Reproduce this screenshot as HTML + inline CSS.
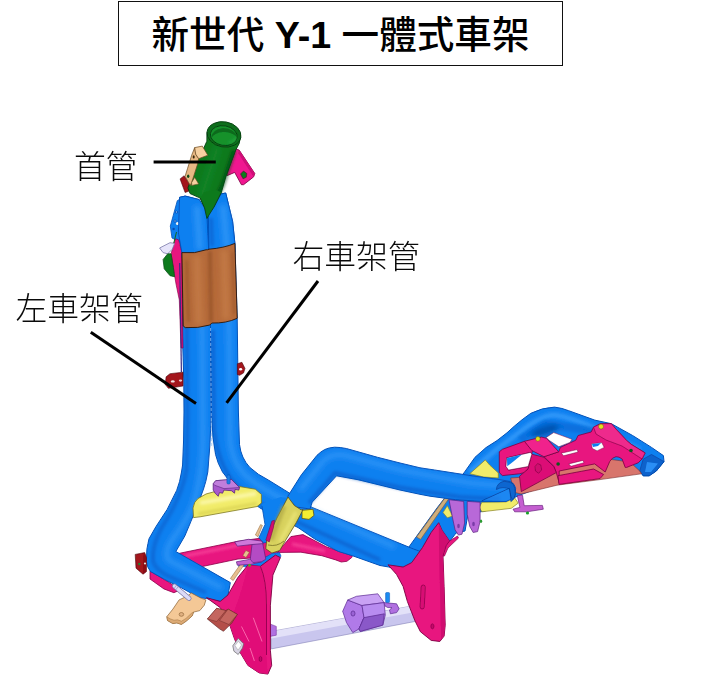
<!DOCTYPE html>
<html lang="zh-Hant">
<head>
<meta charset="utf-8">
<title>新世代 Y-1 一體式車架</title>
<style>
html,body{margin:0;padding:0;background:#fff;}
body{width:718px;height:694px;position:relative;overflow:hidden;font-family:"Liberation Sans","Noto Sans CJK TC",sans-serif;}
#title{position:absolute;left:118px;top:1px;width:443px;height:63px;border:1.5px solid #111;box-sizing:content-box;text-align:center;font-weight:500;font-size:37.6px;line-height:66px;height:63px;color:#000;white-space:nowrap;letter-spacing:0;}
.lbl{position:absolute;font-size:31.8px;line-height:36px;color:#0a0a0a;white-space:nowrap;font-weight:300;}
svg{position:absolute;left:0;top:0;}
</style>
</head>
<body>
<div id="title">新世代 <b>Y-1</b> 一體式車架</div>
<svg id="art" width="718" height="694" viewBox="0 0 718 694">
<defs>
<filter id="b1" filterUnits="userSpaceOnUse" x="0" y="0" width="718" height="694"><feGaussianBlur stdDeviation="1.6"/></filter>
<filter id="b2" filterUnits="userSpaceOnUse" x="0" y="0" width="718" height="694"><feGaussianBlur stdDeviation="2.6"/></filter>
<filter id="soft" filterUnits="userSpaceOnUse" x="0" y="0" width="718" height="694"><feGaussianBlur stdDeviation="0.45"/></filter>
</defs>
<g id="frame" filter="url(#soft)" stroke-linejoin="round">
<!-- ===== back layer: rear tube ===== -->
<g id="rear">
<path d="M406,551 L437,508 L464.6,472 L475,457.3 L486,447.6 L497,440.6 L507,432.8 L514.2,426.3 L522,419.8 L530.8,413.3 Q542,407.7 554.5,407.1 Q562,408 568.7,410.7 L594.7,420.1 L611.3,423.7 L632.6,435.5 L651.5,447.4 L663.4,455.6 L664,461.6 L656.3,471 L649.2,475.8 L643.2,475.8 L639.7,471 L600,470 L560,480 L520,495 L485,511 L468,514 L465,531 L456,533 L447,545 L430,562 Z" fill="#0f80f0" stroke="#0650b8" stroke-width="1"/>
<path d="M470,472 L497,449 L520,432 Q540,416 553,415 Q563,415 590,426 L640,450" fill="none" stroke="#4aa8ff" stroke-width="5" opacity=".55" filter="url(#b1)"/>
<path d="M520,440 L545,424 L600,432 L640,456" fill="none" stroke="#0560cc" stroke-width="8" opacity=".5" filter="url(#b1)"/>
<ellipse cx="545" cy="431" rx="14" ry="4.5" transform="rotate(-18 545 431)" fill="#043c90" opacity=".65" filter="url(#b2)"/>
<!-- end cap -->
<path d="M643.2,459.2 L651.5,454.5 L664,461.6 L656.3,471 L649.2,475.8 L643.2,475.8 L639.7,471 Z" fill="#0a62cc" stroke="#0648a8" stroke-width=".8"/>
<path d="M647,462 L658,463.5 L651,472 L645,472 Z" fill="#2b8ef5"/>
</g>
<!-- tan strip along rear tube lower -->
<path d="M416.5,537 L443,500.6 L452,488.5 L455,490 L447.2,501 L420.6,539.4 Z" fill="#cfae7c" stroke="#7a6040" stroke-width=".7"/>

<!-- yellow at junction (behind tube2 end) -->
<path d="M469.8,473.7 L485.3,459.9 L489.7,465.1 L498.3,472.9 L498.3,478 L483.6,477 Z" fill="#f1ec6a" stroke="#8a8420" stroke-width=".7"/>
<path d="M481.9,502.2 L506.1,501.9 L514.7,497.9 L518.2,503.1 L511.3,508.3 L481.9,511.8 L479.3,507.4 Z" fill="#f1ec6a" stroke="#8a8420" stroke-width=".7"/>
<path d="M443,512.6 L447.3,505.7 L452.5,516.1 L447.3,517.8 Z" fill="#f1ec6a" stroke="#8a8420" stroke-width=".6"/>

<!-- salmon underside of rear bracket -->
<g fill="#d8746c" stroke="#7a3030" stroke-width=".6">
<path d="M510.7,478 L521.6,477.2 L560,466 L600,458 L630,462 L639.7,471 L641.5,473.8 L600,479.6 L557,485.2 L521,494 L514.2,492.3 Z"/>
</g>
<!-- rear pink bracket -->
<g id="rearbracket" fill="#e8157f" stroke="#7a0040" stroke-width=".8">
<!-- left arm loop -->
<path fill-rule="evenodd" d="M499.3,451.8 L502.4,449.3 L524.4,441.3 L526.9,443.8 L532.4,450.5 L531.8,454.2 L528.1,468.9 L524.4,472.6 L519.5,473.8 L502.4,475.6 L499.3,472.6 Z M506.6,457.9 L530.5,452.4 L531.8,454.2 L528.1,466.5 L508.5,470.1 L506,466.5 Z"/>
<!-- main beam -->
<path d="M544,456.7 L558.7,451.8 L560.4,447.4 L575.8,440.2 L578.1,435.5 L591.2,432 L593.5,427.2 L600.6,423.7 L611.3,423.7 L616,429.1 L626.7,440.6 L631.3,444.4 L645.1,452.9 L642,459 L638.2,462.8 L626.7,467.4 L625.2,467.4 L622.1,459 Q619,456.5 616,456.7 Q612,457.5 609.8,461.3 L605.2,472 L594.7,463.9 L559.2,471 L559.2,482.9 L556.3,472.6 L553.8,466.5 Z"/>
<!-- side triangular face -->
<path d="M531.8,454.2 L544,457.3 L553.8,466.5 L556.3,472.6 L521.3,491.6 L519.5,476.3 L528.1,468.9 Z" fill="#dc0f76"/>
<!-- top plate 1 -->
<path d="M524.4,441.3 L541.6,437.1 L546.5,438.3 L558.7,451.8 L544,456.7 L531.8,450.5 Z" fill="#f0248c"/>
<!-- right platform facet -->
<path d="M593.5,427.2 L600.6,423.7 L611.3,423.7 L616,429.1 L626.7,440.6 L631.3,444.4 L645.1,452.9 L642,459 L622,446 L606,440 L596,434 Z" fill="#ee2a8c" stroke-width=".6"/>
<!-- front lip -->
<path d="M558,475.7 L593.6,469 L603.6,474.5 L600,478.6 L559,484.4 Z"/>
</g>
<!-- hole on side face -->
<path d="M535,466.5 l2.6,-3 l3.2,1.4 l.8,5 l-3,3.4 l-3.2,-2.4 z" fill="#d00c70" stroke="#7a0040" stroke-width=".6"/>
<!-- white see-through holes -->
<g fill="#fff" stroke="#7a0040" stroke-width=".5">
<path d="M506.6,457.9 L530.5,452.4 L531.8,454.2 L528.1,466.5 L508.5,470.1 L506,466.5 Z"/>
<path d="M546.2,437.4 L553.7,432.6 L572,439.3 L570,442.4 L558.8,446.8 L549,440.3 Z"/>
<path d="M561.2,453.2 L577,449.6 L578.1,452 L563.6,455.8 Z"/>
<path d="M568.7,463.9 L582.9,460.4 L584,462.7 L571,466.3 Z"/>
<path d="M591.2,443.8 L601.8,442.6 L604.2,447.4 L597.1,450.9 L592.3,448.5 Z"/>
</g>
<path d="M506.9,458.2 L522,454.6 L513.4,461.6 L507.3,466.2 Z" fill="#0f80f0"/>
<path d="M592,444 L601,442.9 L598,446 L593,447 Z" fill="#0f80f0"/>
<!-- bolts on rear bracket -->
<circle cx="537.9" cy="438.9" r="2.3" fill="#e6de1c" stroke="#666010" stroke-width=".5"/>
<circle cx="601" cy="426.6" r="2.5" fill="#e6de1c" stroke="#666010" stroke-width=".5"/>
<circle cx="558.1" cy="464" r="1.8" fill="#0c5a1a"/>
<circle cx="631" cy="450.5" r="1.8" fill="#0c5a1a"/>

<!-- purple hanging bracket right -->
<path d="M517.3,495.3 L522.5,495.3 L524.2,505.7 L542.4,505.4 L543.3,509.2 L526.8,511.8 L514.7,511.8 L513,509.2 L519.9,507.4 Z" fill="#c45fd0" stroke="#6a2080" stroke-width=".7"/>
<circle cx="527.5" cy="513" r="1.6" fill="#18a028"/>

<!-- ===== crossbar (lavender) ===== -->
<g id="crossbar">
<path d="M271.3,631.4 L410.4,606.3 L415.4,612 L415.4,621.4 L271.3,648.9 Z" fill="#c9c6ee" stroke="#8886b8" stroke-width=".6"/>
<path d="M271.3,631.4 L410.4,606.3 L415.4,612 L271.3,638.5 Z" fill="#e3e1f8"/>
<path d="M270,623.9 L276.3,626.4 L276.3,635.2 L270,636.4 Z" fill="#b070e0" stroke="#6a2090" stroke-width=".5"/>
</g>
<!-- purple box on crossbar -->
<g id="box" stroke="#5a2a90" stroke-width=".7">
<path d="M342.7,611.3 L347.7,600 L362,605.5 L364,617.6 L359,628.9 L352.8,632.6 L346.5,622.6 Z" fill="#b07ae8"/>
<path d="M347.7,600 L356.5,596.3 L377.8,593.8 L384.1,602.6 L362,605.5 Z" fill="#c9a2f4"/>
<path d="M362,605.5 L384.1,602.6 L385.3,615.1 L382.8,625.1 L360.3,631.4 L359,628.9 L364,617.6 Z" fill="#b88cf0"/>
<path d="M364,617.6 L384.3,613.8 L382.8,625.1 L360.3,631.4 L359,628.9 Z" fill="#8a58c8"/>
<ellipse cx="353" cy="613.5" rx="2" ry="2.6" fill="#9a62d4"/>
<path d="M384.1,602.6 L396.6,603.8 L399.1,608.8 L396.6,612.6 L390.4,613.8 L389.5,610 L392,607.6 L387.8,607.6 L385,606 Z" fill="#b070e0"/>
</g>
<rect x="385.6" y="592.5" width="4" height="10" rx="1" fill="#1a8cf0" stroke="#0650b8" stroke-width=".5"/>

<!-- ===== pink cross tube (behind) ===== -->
<g id="pinkcross" fill="#e8157f" stroke="#8a0048" stroke-width=".8">
<path d="M176,554 L237.8,541.3 L262,538 L280,540 L278,556 L238,559 L200,567 Z"/>
<path d="M278.8,550.7 L290.9,536.6 L303,534.6 L326.2,546.7 L340.3,551.8 L352.4,555.7 L351.7,557.6 L346.9,561.3 L341.3,562 L335.7,559.9 L321.8,555.7 L300.9,552.2 L280,552.4 L276,556 Z"/>
<path d="M150,571 L150,579 L163.9,588.9 L173.9,592.7 L180,590 L170,583 Z"/>
</g>
<path d="M185,556 L240,545" fill="none" stroke="#ff5aa8" stroke-width="3" opacity=".6" filter="url(#b1)"/>
<path d="M292,544 L325,551" fill="none" stroke="#ff5aa8" stroke-width="3" opacity=".6" filter="url(#b1)"/>

<!-- ===== right down tube + lower diagonal (tube 1) ===== -->
<g id="tube1">
<path d="M221,194 L225.7,193 L232.6,221.5 L234.9,243.4 L237.2,318.3 L238.4,412 L239.5,444.5 Q241,458 249.9,467.5 Q258,475 268.3,480 L284.8,490.2 L312.1,507.4 L413,548.8 L422,552 L404,572 L388.8,567 L380,565.5 L352.4,555.7 L338.5,551.5 L314.8,539 L298,527.5 L273,515.2 Q258,508 249.7,499.7 Q236,490 228.5,479.7 L222.5,471.9 Q217.5,463 215.6,454.6 L213,437.3 L211.5,412 L210.5,330 L209,250 L208.4,214.6 Z" fill="#0f80f0" stroke="#0650b8" stroke-width="1"/>
<path d="M228,215 L229,330 L230,440 Q232,462 246,476 Q262,490 290,502 L395,547" fill="none" stroke="#55b0ff" stroke-width="5" opacity=".42" filter="url(#b2)"/>
<path d="M213,330 L214,430 Q218,462 232,480 Q250,500 280,514 L380,560" fill="none" stroke="#0558c4" stroke-width="4" opacity=".6" filter="url(#b1)"/>
</g>

<!-- ===== tube 2 (peak + long run to rear) ===== -->
<g id="tube2">
<path d="M287.8,496.3 L301.4,474.8 L317,455.3 Q321,451.5 324.8,449.5 Q329,447.5 334.6,447.2 Q340,447.2 346.3,448.5 L377.5,457.3 L400,463 L420,467.8 L434.6,470 L473.8,476.1 L499.1,479.5 L510.4,481.5 Q515,484 515.6,488.4 L514.7,497.1 L506.1,501.4 L481.9,501.4 L455.9,499.7 L430,496.2 L420,494.3 L400,490 L358,479.7 L336.5,475.8 L312.2,502.1 L310,509 L296,507 L288,498 Z" fill="#0f80f0" stroke="#0650b8" stroke-width="1"/>
<path d="M300,490 L324,460 Q333,453 346,455.5 L400,470 L470,483 L505,486" fill="none" stroke="#4aa8ff" stroke-width="5" opacity=".5" filter="url(#b2)"/>
<path d="M309,503 L335,473 L400,487.5 L460,497 L500,499" fill="none" stroke="#0558c4" stroke-width="4" opacity=".6" filter="url(#b1)"/>
<!-- end cap (oblique cut) -->
<path d="M496.3,489.5 Q497,482.8 504,481.3 Q509,481.6 512.9,483.6 L514.8,488.3 L515.3,494.1 L513.9,499 L510.9,501.6 L509.5,489 Q503,486 496.3,489.5 Z" fill="#0a66d0" stroke="#06409a" stroke-width=".7"/>
<path d="M481.7,500.9 L509.2,488.4 L511,497 L512.6,499.6" fill="none" stroke="#06409a" stroke-width=".8"/>
<path d="M484,500.2 L509,489 L510.6,499.5 L506,501 Z" fill="#2a8cf4" opacity=".6"/>
</g>

<!-- purple tabs under tube 2 -->
<g fill="#b868d8" stroke="#5a2080" stroke-width=".7">
<path d="M449,499.7 L463.7,501.4 L464.6,523 L462,534.2 L458.5,535.1 L455.1,529.9 L452.5,517.8 Z"/>
<path d="M467.2,501.4 L480.1,502.2 L480.1,521.3 L477.6,531.6 L473.2,532.5 L469.8,526.5 L467.2,514.4 Z"/>
</g>
<ellipse cx="458.5" cy="526" rx="1.3" ry="2.2" fill="#7a3aa8"/>
<ellipse cx="473.5" cy="524" rx="1.3" ry="2.2" fill="#7a3aa8"/>
<ellipse cx="481" cy="521.3" rx="1.2" ry="1.8" fill="#2a9a30"/>

<!-- ===== yellow sleeve 2 (on tube-2 leg) ===== -->
<path d="M261.5,504 L280.5,497 L288.3,497.8 L268,542 L263.2,543 L258.9,537.6 L265,524.6 Z" fill="#0f80f0"/>
<path d="M262,506 L265,524.6 L258.9,537.6 L263.2,543 L268,542" fill="none" stroke="#0650b8" stroke-width=".8"/>
<g fill="#d8d25e" stroke="#5a5418" stroke-width=".8">
<path d="M302,510.3 L313,509.3 L314,515.4 L309,519.4 L302,518.4 Z" fill="#f4ee30"/>
<path d="M288,497 L294.4,505.6 L301.3,509.9 L303,509.5 L301.3,513 L296.1,522.9 L285.7,540.1 L279.7,550.5 L271.9,553.1 L265.8,548.8 L266.7,540.1 L277,518 Z"/>
</g>
<path d="M284,506 L271,540" fill="none" stroke="#a8a040" stroke-width="5" opacity=".6" filter="url(#b1)"/>
<path d="M296,512 L280,542" fill="none" stroke="#f0ec80" stroke-width="4" opacity=".6" filter="url(#b1)"/>
<path d="M268,545 Q277,547 284,541" fill="none" stroke="#6a6420" stroke-width=".7"/>
<!-- pink strip on sleeve 2 -->
<path d="M265.8,540.1 L271.9,521.1 L274.5,520.3 L273.6,527.2 L269.3,541.9 Z" fill="#d01070" stroke="#700040" stroke-width=".5"/>
<!-- tan strips -->
<path d="M255.4,535 L260.6,524.6 L262.4,525.4 L258,536.7 Z" fill="#e8c090" stroke="#8a6030" stroke-width=".5"/>

<!-- blue between gusset & purple bracket (center) -->
<path d="M238,566 L250,562 L262.4,559 L271.9,553.5 L279.5,552.6 L281,556 L273.6,569 L268.4,578 L262,570 L248,567 Z" fill="#0f80f0" stroke="#0650b8" stroke-width=".6"/>
<!-- tan strip lower center -->
<path d="M241,563.5 L244,565 L233.2,580.5 L230.4,578.5 Z" fill="#e8c090" stroke="#8a6030" stroke-width=".5"/>

<!-- ===== left tube ===== -->
<g id="tubeL">
<path d="M185.3,196.1 L199.2,199.6 L208,218 L209,250 L210.5,330 L211,412 L210.8,425 L209.8,446 L207.8,472 Q206,482 203.5,489 Q198,505 184.8,536 L175.8,551.5 L230.3,582.6 L228,595 L220,601.5 L206.5,598.5 L199.2,597.6 L181.9,588.1 L164.6,579.4 L150.5,571.5 Q146.8,567 146.4,561.3 L146.9,549.2 Q148,543 149,538.8 L155.9,526.7 L167.2,509.4 L176.7,490.4 Q180,482 181.5,472 L182.6,465 L183.6,440 L184,412 L183.8,380 L182.2,327 L181.9,252.6 L178.4,233 L179.6,197.3 Z" fill="#0f80f0" stroke="#0650b8" stroke-width="1"/>
<path d="M200,225 L202,330 L203,440 Q202,480 192,508 Q184,524 172,540 Q164,552 168,560 L222,588" fill="none" stroke="#55b0ff" stroke-width="5" opacity=".42" filter="url(#b2)"/>
<path d="M186.5,262 L187.5,420 L186.5,470 Q181.5,497 162,527 Q151.5,546 153,561 Q155,569 167,575.5 L206,592.5" fill="none" stroke="#0558c4" stroke-width="4" opacity=".55" filter="url(#b1)"/>
<!-- seam between tubes -->
<path d="M210.6,328 L211.2,412 L211.6,448" fill="none" stroke="#9cc8f8" stroke-width=".9" stroke-dasharray="3 2" opacity=".8"/>
</g>


<!-- ===== yellow sleeve 1 (in front of left tube) ===== -->
<path d="M193,508 Q194,501.5 198.1,498.5 L206,494 L217.3,490.9 L239.8,486.6 L255.3,489.2 L261.4,494.4 L261.4,503 L257.1,506.5 L200.1,516.8 L193.5,517.6 Z" fill="#f1ec6a" stroke="#7a7420" stroke-width=".8"/>
<path d="M200,503 L256,493.5" fill="none" stroke="#fffcc0" stroke-width="4" opacity=".7" filter="url(#b1)"/>
<path d="M198,514 L257,503.5" fill="none" stroke="#c8c040" stroke-width="3" opacity=".5" filter="url(#b1)"/>
<!-- purple bracket on yellow sleeve 1 -->
<path d="M213.2,483.8 L215.7,480.7 L231.4,479.4 L239.5,487.5 L238.9,490.1 L235.1,489.4 L234.5,493.2 L231.4,490.7 L223.9,490.1 L222.6,493.2 L219.5,492.6 L218.2,496.3 L215.1,493.2 L213.2,490.1 Z" fill="#a858cc" stroke="#4a1870" stroke-width=".7"/>
<path d="M213.2,483.8 L215.7,480.7 L231.4,479.4 L239.5,487.5 L224,488.6 L214.5,485.2 Z" fill="#c07edc" stroke="#4a1870" stroke-width=".5"/>
<rect x="226.9" y="475" width="3.3" height="9" rx="1.2" fill="#1a7ce0" stroke="#0650b8" stroke-width=".5"/>
<!-- dark red square at left -->
<path d="M135.2,554.4 L144.7,552.6 L146.4,557.8 L146.4,571.6 L143,574.2 L136,568.2 Z" fill="#a3121c" stroke="#4a0a10" stroke-width=".6"/>
<path d="M144.7,552.6 L146.4,557.8 L146.4,571.6 L143,574.2 L143.2,556 Z" fill="#8a0c14"/>
<circle cx="139.3" cy="564" r="1.2" fill="#208030"/>
<circle cx="145" cy="563.5" r="1.1" fill="#e8e0d8"/>

<!-- tan bracket -->
<path d="M179.1,599.9 L187.5,596 L191.3,593 L201.3,598.3 L205.9,599.9 L204.3,605.2 L199.8,610.6 L193.6,612.1 L192.1,616 L186,621.3 L181.4,624.4 L176.8,622.9 L172.9,623.6 L167.6,620.6 L166.8,616.7 L172.9,609.1 Z" fill="#f4c896" stroke="#8a6030" stroke-width=".7"/>
<path d="M181.4,624.4 L176.8,622.9 L172.9,623.6 L167.6,620.6 L166.8,616.7 L170,618.8 L174,620.2 L177.5,619.8 L181.5,621.2 L186,618.4 L191.5,613.2 L193.6,612.1 L192.1,616 L186,621.3 Z" fill="#dcaa74" stroke="#8a6030" stroke-width=".4"/>
<ellipse cx="181.4" cy="614.4" rx="2.3" ry="1.9" fill="#e0b080" stroke="#8a6030" stroke-width=".6"/>
<!-- bolt -->
<path d="M174.5,586.1 L189,598.3" fill="none" stroke="#7a78a8" stroke-width="5" stroke-linecap="round"/>
<path d="M174.5,586.1 L189,598.3" fill="none" stroke="#dcdaf6" stroke-width="3.6" stroke-linecap="round"/>
<path d="M176.6,585 L174,588.6 M178.4,586.4 L175.6,590" stroke="#8a88b8" stroke-width=".6" fill="none"/>
<!-- ===== left gusset (pink) ===== -->
<g id="gussetL">
<path d="M206.5,597.7 L220.3,601.4 L227.8,595.2 L237.8,577.6 L247.9,565.1 L260.4,566.3 L275.4,555.1 L280.4,557.6 L272.9,575.1 L270.4,605.2 L270.4,650.3 L271.7,665.4 L267.9,674.1 L259.1,672.9 L247.9,665.4 L240.3,652.8 L234.1,637.8 L229,622.8 L220.3,607.7 Z" fill="#e8157f" stroke="#7a0040" stroke-width=".9"/>
<path d="M247.9,565.1 L260.4,566.3 Q266,575 266,600 L266,650 L267.9,674.1 L259.1,672.9 L247.9,665.4 L240.3,652.8 L234.1,637.8 L229,622.8 Q240,600 247.9,565.1 Z" fill="#e01078" opacity=".9"/>
<path d="M260.4,566.3 Q266.5,580 266.5,605 L266.5,655" fill="none" stroke="#7a0040" stroke-width=".7"/>
<path d="M241.5,626.5 L249,641.5 M253.3,617.8 L262,641.5 M250,648 L254.4,661" fill="none" stroke="#ff78b8" stroke-width="1" opacity=".8"/>
<ellipse cx="260.5" cy="659" rx="1.5" ry="2.6" fill="#c00868" stroke="#7a0040" stroke-width=".5"/>
<!-- white square tab -->
<path d="M232.8,645.8 L238.2,638.3 L243.6,643.7 L242.5,648 L238.2,654.5 L233.9,651.2 Z" fill="#d8d4e4" stroke="#666" stroke-width=".7"/>
<path d="M235,645.6 L238.3,641.3 L241.6,645 L238,650.2 Z" fill="#fff" stroke="#888" stroke-width=".4"/>
</g>
<!-- brownish block (in front of gusset) -->
<path d="M207.4,619 L216.6,608.3 L225.8,610.6 L228.1,609.1 L237.3,614.4 L231.9,622.9 L223.5,631.3 L219.7,629 Z" fill="#b4504a" stroke="#5a2020" stroke-width=".6"/>
<path d="M216.6,608.3 L225.8,610.6 L216.8,621.5 L207.4,619 Z" fill="#c4665e" stroke="#5a2020" stroke-width=".4"/>
<path d="M228.1,609.1 L237.3,614.4 L229,624.5 L219.5,620.5 Z" fill="#c4665e" stroke="#5a2020" stroke-width=".4"/>
<!-- purple bracket mid -->
<g fill="#c45fd0" stroke="#5a2080" stroke-width=".7">
<path d="M236.4,561.8 L250.3,559.2 L261.5,561.8 L251.1,564.4 L237.3,565.2 Z"/>
<path d="M252,544.5 L262.4,541.9 L265.8,559.2 L261.5,561.8 L252.9,562.6 L250.3,559.2 Z" fill="#b44cc4"/>
<path d="M234.7,541.9 L248.5,539.3 L261.5,541 L263.2,543.6 L252,544.5 L237.3,546.2 Z" fill="#cf78da"/>
</g>
<circle cx="249.5" cy="565.3" r="1.5" fill="#58a028"/>
<path d="M245.9,550.5 L249.4,552.2 L246,557.5 L242.8,555.5 Z" fill="#e8c090" stroke="#8a6030" stroke-width=".5"/>

<!-- ===== right gusset (pink) ===== -->
<g id="gussetR">
<path d="M388,564.8 L403.1,567 L411.7,562.6 L422.5,547.5 L431.2,532.4 L438.7,522.7 L442,530.2 L449.5,541 L446.3,545.4 L443,556.2 L444.1,586.4 L445.2,625.3 L444.1,636.1 L439.8,641.5 L431.2,640.4 L420.4,631.7 L415,620.9 L407.4,601.5 L403.1,586.4 L396.6,574.5 Z" fill="#e8157f" stroke="#7a0040" stroke-width=".9"/>
<path d="M438.7,522.7 L442,530.2 L449.5,541 L446.3,545.4 L443,556.2 L444.1,586.4 L445.2,625.3 L444.1,636.1 L441,640 L440.2,600 L439.2,560 Q439,540 438.7,522.7 Z" fill="#d00c70"/>
<path d="M449.5,541 L457.5,536 L458.5,538 L448,548 L444.5,556 L443,556.2 L446.3,545.4 Z" fill="#e8157f" stroke="#7a0040" stroke-width=".6"/>
<rect x="420.6" y="585" width="4.2" height="24" rx="2.1" fill="#d80c74" stroke="#7a0040" stroke-width=".6" transform="rotate(3 422.5 597)"/>
<ellipse cx="432.4" cy="626.3" rx="1.6" ry="2.6" fill="#c00868" stroke="#7a0040" stroke-width=".5"/>
</g>

<!-- ===== left side bits behind upper tubes ===== -->
<!-- blue plate with holes -->
<path d="M185,196 L177.3,200.7 L170.3,226.1 L172,238 L180,242 L181.9,252.6 L186,250 L186,200 Z" fill="#0f80f0" stroke="#0650b8" stroke-width=".8"/>
<circle cx="176.5" cy="212" r="1.5" fill="#0650b8"/><circle cx="176.5" cy="212" r=".7" fill="#8cc4ff"/>
<circle cx="175" cy="221" r="1.5" fill="#0650b8"/><circle cx="175" cy="221" r=".7" fill="#8cc4ff"/>
<circle cx="173.6" cy="229" r="1.3" fill="#0650b8"/>
<circle cx="177.5" cy="223.5" r="1.6" fill="#f4f4f0"/>
<!-- pink strip -->
<path d="M175.7,238.8 L178.7,239.9 L181.9,252.6 L182.2,300 L183,348 L181,348 L179.3,300 L176,284 L172.3,262 L171.1,253.8 L173.4,244.6 Z" fill="#e8157f" stroke="#7a0040" stroke-width=".6"/>
<path d="M179.7,263 L181.4,372" stroke="#3a2a80" stroke-width="1.2" fill="none"/>
<!-- lavender plate -->
<path d="M159.6,248 L170,242.7 L174.6,243.4 L172.3,249.2 L167.7,253.8 L163.1,252.6 Z" fill="#e6e4fa" stroke="#7a78a8" stroke-width=".8"/>
<!-- green blob -->
<path d="M163.1,259.5 L167.7,253.8 L171.1,253.8 L173.4,267.6 L174.6,276.8 L170,275.7 L164.2,268.8 Z" fill="#0c7a1e" stroke="#064a10" stroke-width=".7"/>
<path d="M176.5,232 L173.8,243" stroke="#0c6a1e" stroke-width="1" fill="none"/>

<!-- dark red clamp brackets on tubes -->
<path d="M166.1,376.8 L170,373.7 L183,372.2 L183,386 L168.4,388.3 L165.3,384.5 Z" fill="#a3121c" stroke="#4a0a10" stroke-width=".6"/>
<ellipse cx="172.8" cy="381.4" rx="1.9" ry="1.2" fill="#f2e4e4"/>
<ellipse cx="180.5" cy="380.6" rx="1.7" ry="1.1" fill="#e8c8c8"/>
<path d="M237.3,363.8 L241.9,362.3 L245,368.4 L243.5,373 L239.6,375.3 L237.3,374.5 Z" fill="#a3121c" stroke="#4a0a10" stroke-width=".6"/>
<ellipse cx="240.6" cy="369.2" rx="1.6" ry="1.3" fill="#fff"/>

<!-- ===== head tube assembly ===== -->
<!-- pink bracket right of head tube -->
<path d="M235.8,149 L239.2,150.1 L254.8,173.5 L253.6,176.9 L243.6,184.7 L241.4,184.7 L234.7,172.4 L226.9,175.7 L228,170.2 Z" fill="#f01890" stroke="#7a0040" stroke-width=".8"/>
<path d="M239.2,150.1 L254.8,173.5 L253.6,176.9 L238,153 Z" fill="#d01078"/>
<path d="M240.5,174 l3,-3 l3.4,2.6 l-.6,3.6 l-3.2,1.6 z" fill="#0c7a1e" stroke="#5a0030" stroke-width=".6"/>
<!-- dark red piece -->
<path d="M180.1,178.9 L184.1,175.8 L190.7,185.4 L189.2,191 L185.1,192.5 Z" fill="#a3121c" stroke="#4a0a10" stroke-width=".6"/>
<!-- green head tube body -->
<path d="M206.9,132.3 L240.6,135.5 L239.2,143.4 L235.7,150.1 L225.8,176.9 L221.3,192.5 L214,207 L206.9,218.4 L204.6,208 L200.2,198 L190.1,193.6 L187.9,188 L195.7,165.7 L206.9,141.2 Z" fill="#0c7a1e" stroke="#064010" stroke-width=".9"/>
<path d="M218,146 L205,186 L201,197" fill="none" stroke="#1e8e30" stroke-width="7" opacity=".45" filter="url(#b2)"/>
<path d="M234,150 L222,186 L210,210" fill="none" stroke="#064a10" stroke-width="5" opacity=".6" filter="url(#b1)"/>
<!-- rim -->
<ellipse cx="224" cy="134.4" rx="17.1" ry="12.6" transform="rotate(10 224 134.4)" fill="#0b6e1c" stroke="#064010" stroke-width=".9"/>
<ellipse cx="223.8" cy="135.6" rx="13.6" ry="9.8" transform="rotate(10 223.8 135.6)" fill="#14912c" stroke="#053a0e" stroke-width=".8"/>
<path d="M211,138.5 Q211.5,129.5 223,128 Q235,128.5 237.3,137.5 Q232,131.8 223,132 Q214.5,132.5 211,138.5 Z" fill="#0a641a" opacity=".85"/>
<path d="M229,142.5 Q235,141.5 236.3,137.5" fill="none" stroke="#3cb850" stroke-width="1.6" opacity=".7" filter="url(#b1)"/>
<!-- tan bracket left of head tube -->
<path d="M191.7,155.2 L194.7,147.6 L195.7,154.2 L198.7,158.7 L197.2,165.3 L191.7,182.4 L190.2,185.4 L185.1,176.3 L187.6,168.3 Z" fill="#e8b884" stroke="#6a4820" stroke-width=".7"/>
<path d="M194.7,147.6 L202.3,146.1 L207.8,155.2 L198.7,158.7 L195.7,154.2 Z" fill="#f6d0a0" stroke="#6a4820" stroke-width=".7"/>
<path d="M191.7,182.4 L194.7,177.4 L198.7,183.9 L191.7,185.4 Z" fill="#f6d0a0" stroke="#6a4820" stroke-width=".6"/>
<ellipse cx="193.7" cy="156.9" rx="1" ry="1.6" fill="#3a2a10"/>
<ellipse cx="188.2" cy="176.3" rx="1.2" ry="1.7" fill="#0a4a14"/>

<!-- ===== upper blue cones (redraw top to cover green foot) ===== -->
<path d="M185.3,196.1 L199.2,199.6 L204.6,208 L207,218 L209,256 L182,258 L181.9,252.6 L178.4,233 L179.6,197.3 Z" fill="#0f80f0" stroke="#0650b8" stroke-width=".9"/>
<path d="M221,194 L225.7,193 L232.6,221.5 L234.9,243.4 L235,252 L209,256 L208.4,214.6 L214,207 Z" fill="#0f80f0" stroke="#0650b8" stroke-width=".9"/>
<path d="M197,206 L200,250" fill="none" stroke="#55b0ff" stroke-width="7" opacity=".4" filter="url(#b2)"/>
<path d="M223,205 L227,248" fill="none" stroke="#55b0ff" stroke-width="7" opacity=".4" filter="url(#b2)"/>
<path d="M211,218 L212,246" fill="none" stroke="#0558c4" stroke-width="4" opacity=".55" filter="url(#b1)"/>
<!-- green V tip over -->
<path d="M200.2,198 L204.6,208 L206.9,218.4 L214,207 L221.3,192.5 L216,190 L204,192 Z" fill="#0c7a1e"/>
<path d="M200.2,198 L204.6,208 L206.9,218.4 L214,207 L221.3,192.5" fill="none" stroke="#064010" stroke-width=".8"/>

<!-- ===== brown band ===== -->
<path d="M181.9,252.6 Q195,254 206.1,249.8 Q207.5,250 209,249.2 Q224,248 234.9,243.4 L237.2,318.3 Q226,323.5 211.8,323 Q210.8,324 209.8,325 Q198,328.5 185.3,327.6 L183.2,326 Z" fill="#b66b3a" stroke="#2a1408" stroke-width=".9"/>
<path d="M197,256 L199,324" fill="none" stroke="#cc8450" stroke-width="7" opacity=".55" filter="url(#b2)"/>
<path d="M224,250 L226,319" fill="none" stroke="#cc8450" stroke-width="7" opacity=".55" filter="url(#b2)"/>
<path d="M210,251 L211,322" fill="none" stroke="#8a4a22" stroke-width="4" opacity=".55" filter="url(#b1)"/>
<path d="M186.5,260 L188.5,322" fill="none" stroke="#8a4a22" stroke-width="2.5" opacity=".5" filter="url(#b1)"/>
<path d="M232.6,252 L234.2,314" fill="none" stroke="#8a4a22" stroke-width="2" opacity=".5" filter="url(#b1)"/>

<!-- leader lines -->
<g stroke="#000" stroke-width="3" fill="none" stroke-linecap="butt">
<path d="M153.6,162 L215.8,162"/>
<path d="M90.8,332.2 L196,403.4"/>
<path d="M318,281 L226.6,402.8"/>
</g>


</g>
</svg>
<div class="lbl" id="l1" style="left:74px;top:148.5px;">首管</div>
<div class="lbl" id="l2" style="left:292.5px;top:238.6px;">右車架管</div>
<div class="lbl" id="l3" style="left:15.5px;top:290.6px;">左車架管</div>
</body>
</html>
